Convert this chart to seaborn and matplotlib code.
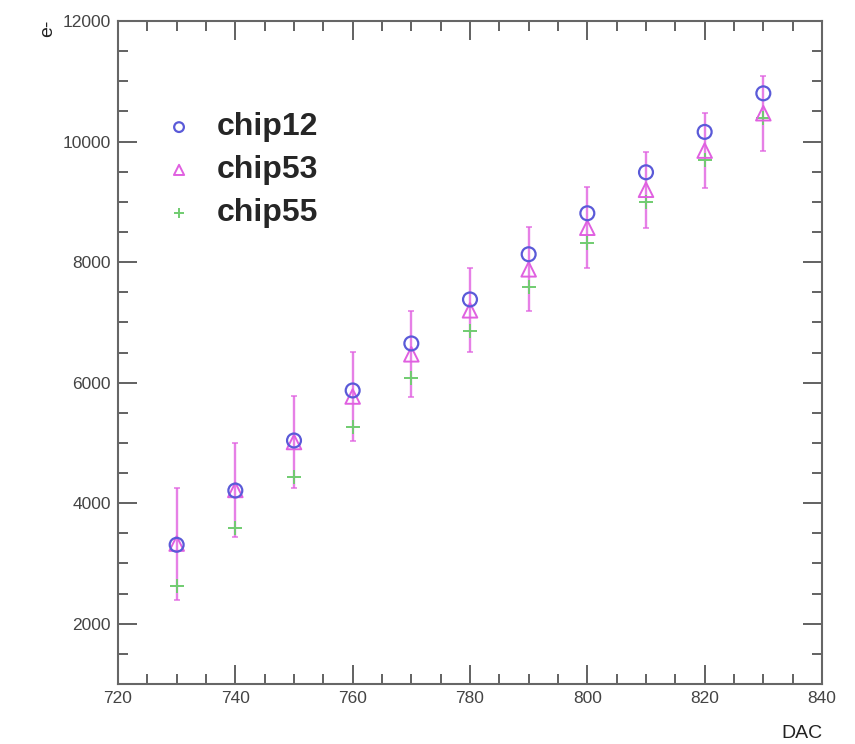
import numpy as np
import pandas as pd
import matplotlib
matplotlib.use('Agg')
import matplotlib.pyplot as plt
from matplotlib.ticker import MultipleLocator
import seaborn as sns

# 数据
dac = [730, 740, 750, 760, 770, 780, 790, 800, 810, 820, 830]
chip12 = [3310, 4210, 5040, 5870, 6650, 7380, 8130, 8810, 9490, 10160, 10800]
chip53 = [3330, 4220, 5015, 5770, 6470, 7200, 7880, 8570, 9200, 9850, 10470]
chip53_err = [930, 780, 756, 731, 714, 698, 698, 673, 631, 623, 623]
chip55 = [2630, 3580, 4430, 5260, 6070, 6850, 7580, 8310, 8990, 9690, 10390]

c_blue = '#5a5ad8'
c_mag = '#e060e0'
c_green = '#70cc70'

sns.set_theme(style='ticks')
plt.rcParams['font.family'] = ['Liberation Sans', 'DejaVu Sans']

fig = plt.figure(figsize=(8.55, 7.44), dpi=100)
ax = fig.add_axes([118 / 855, 1 - 684 / 744, 704 / 855, 663 / 744])

# 误差棒 (chip53)
ax.errorbar(dac, chip53, yerr=chip53_err, fmt='none', ecolor=c_mag,
            elinewidth=1.7, capsize=2.5, capthick=1.2, alpha=0.8, zorder=2)

sns.scatterplot(x=dac, y=chip55, ax=ax, color=c_green, marker='+', s=110,
                linewidth=1.4, label='chip55', zorder=3)
sns.scatterplot(x=dac, y=chip53, ax=ax, color=c_mag, marker='^', s=110,
                facecolor='none', edgecolor=c_mag, linewidth=1.4,
                label='chip53', zorder=4)
sns.scatterplot(x=dac, y=chip12, ax=ax, color=c_blue, marker='o', s=100,
                facecolor='none', edgecolor=c_blue, linewidth=1.6,
                label='chip12', zorder=5)

ax.set_xlim(720, 840)
ax.set_ylim(1000, 12000)
ax.xaxis.set_major_locator(MultipleLocator(20))
ax.xaxis.set_minor_locator(MultipleLocator(5))
ax.yaxis.set_major_locator(MultipleLocator(2000))
ax.yaxis.set_minor_locator(MultipleLocator(500))
ax.tick_params(which='both', direction='in', top=True, right=True,
               colors='#555555', labelcolor='#444444', width=1.3)
ax.tick_params(which='major', length=14, labelsize=12.5, pad=5)
ax.tick_params(which='minor', length=7)
for s in ax.spines.values():
    s.set_color('#666666')
    s.set_linewidth(1.5)
    s.set_visible(True)

ax.set_xlabel('')
ax.set_ylabel('')
fig.text(822 / 855, 1 - 733 / 744, 'DAC', ha='right', va='center',
         fontsize=14, color='#222222')
fig.text(48 / 855, 1 - 28 / 744, 'e-', ha='center', va='center',
         rotation=90, fontsize=14, color='#222222')

# 图例顺序 chip12, chip53, chip55
h, l = ax.get_legend_handles_labels()
order = [l.index('chip12'), l.index('chip53'), l.index('chip55')]
ax.legend([h[i] for i in order], [l[i] for i in order],
          loc='upper left', bbox_to_anchor=(0.064, 0.862), frameon=False,
          borderaxespad=0, borderpad=0, handlelength=1.0, handletextpad=0.68,
          labelspacing=0.4, markerscale=0.7,
          prop={'family': 'Liberation Sans', 'weight': 'bold', 'size': 23})

fig.savefig('out.png', dpi=100, facecolor='white')
